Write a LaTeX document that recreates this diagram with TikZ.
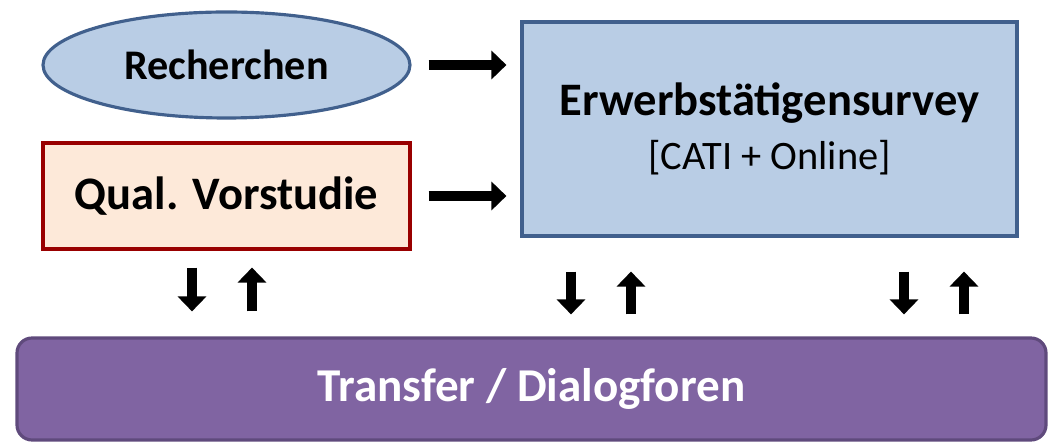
\documentclass[tikz,border=0pt]{standalone}
\usepackage{fontspec}
\setmainfont{Carlito}
\usetikzlibrary{shapes.geometric,arrows.meta}
\definecolor{fillblue}{HTML}{B9CDE5}
\definecolor{edgeblue}{HTML}{41608D}
\definecolor{fillpeach}{HTML}{FDE9D9}
\definecolor{edgered}{HTML}{990000}
\definecolor{fillviolet}{HTML}{8064A2}
\definecolor{edgeviolet}{HTML}{5F4A7C}

\begin{document}
\begin{tikzpicture}[
  bluebox/.style={fill=fillblue,draw=edgeblue,line width=1.8pt},
  blockarrow/.style={line width=0.2cm,-{Triangle[length=0.3cm,width=0.56cm]}},
]
\useasboundingbox (0,0) rectangle (21.04,8.84);
\node[bluebox,ellipse,minimum width=7.34cm,minimum height=2.12cm] (rech) at (4.53,7.54)
  {\fontsize{24}{28}\selectfont\bfseries Recherchen};
\node[fill=fillpeach,draw=edgered,line width=1.8pt,minimum width=7.34cm,minimum height=2.12cm] (qual) at (4.53,4.92)
  {\fontsize{26.5}{30}\selectfont\bfseries Qual. Vorstudie};
\node[bluebox,minimum width=9.9cm,minimum height=4.28cm,align=center,font=\fontsize{26.5}{31}\selectfont] (erw) at (15.39,6.26)
  {\bfseries Erwerbstätigensurvey\\
   \fontsize{23}{31}\selectfont [CATI + Online]};
\node[fill=fillviolet,draw=edgeviolet,line width=1.8pt,rounded corners=0.3cm,minimum width=20.58cm,minimum height=2.04cm,text=white] (trans) at (10.63,1.06)
  {\fontsize{26.8}{30}\selectfont\bfseries Transfer / Dialogforen};

\coordinate (d1) at (3.84,0);
\coordinate (u1) at (5.04,0);
\coordinate (d2) at (11.42,0);
\coordinate (u2) at (12.62,0);
\coordinate (d3) at (18.08,0);
\coordinate (u3) at (19.28,0);

\draw[blockarrow,shorten <=0.34cm,shorten >=0.28cm] (rech.east) -- (rech.east -| erw.west);
\draw[blockarrow,shorten <=0.34cm,shorten >=0.28cm] (qual.east) -- (qual.east -| erw.west);
\draw[blockarrow,shorten <=0.34cm,shorten >=0.5cm] (qual.south -| d1) -- (trans.north -| d1);
\draw[blockarrow,shorten <=0.5cm,shorten >=0.34cm] (trans.north -| u1) -- (qual.south -| u1);
\draw[blockarrow,shorten <=0.68cm,shorten >=0.44cm] (erw.south -| d2) -- (trans.north -| d2);
\draw[blockarrow,shorten <=0.44cm,shorten >=0.68cm] (trans.north -| u2) -- (erw.south -| u2);
\draw[blockarrow,shorten <=0.68cm,shorten >=0.44cm] (erw.south -| d3) -- (trans.north -| d3);
\draw[blockarrow,shorten <=0.44cm,shorten >=0.68cm] (trans.north -| u3) -- (erw.south -| u3);
\end{tikzpicture}
\end{document}
